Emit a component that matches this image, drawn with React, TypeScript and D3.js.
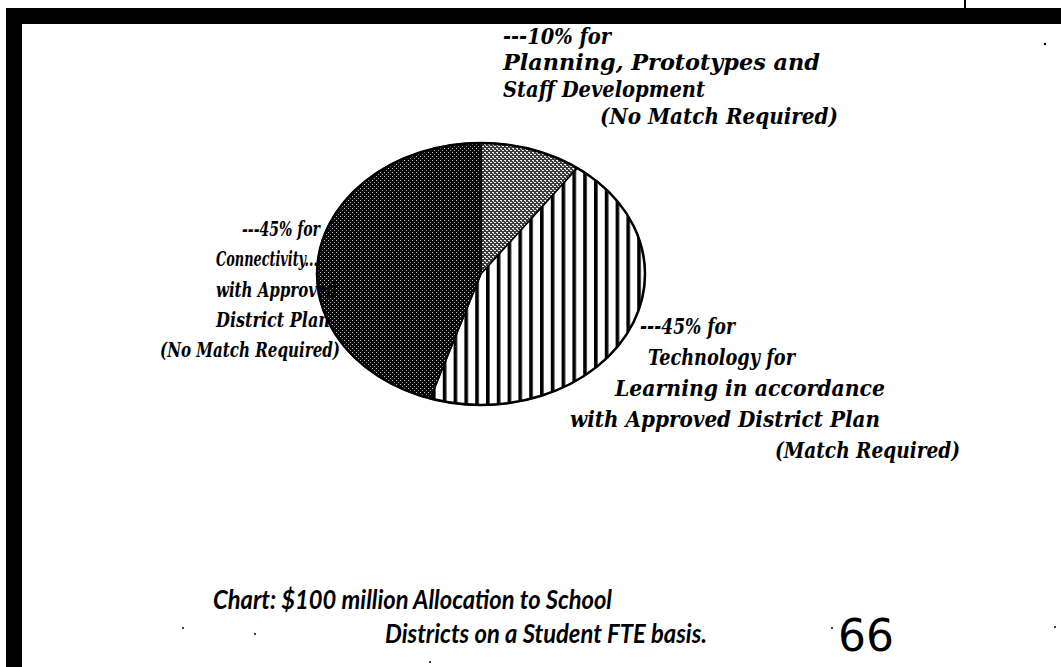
import React from "react";
import * as d3 from "d3";

// ---- data ----
const categories = ["Planning, Prototypes and Staff Development", "Technology for Learning", "Connectivity"];
const shares = [10, 45, 45];
const topLabel = ["---10% for", "Planning, Prototypes and", "Staff Development", "(No Match Required)"];
const rightLabel = ["---45% for", "Technology for", "Learning in accordance", "with Approved District Plan", "(Match Required)"];
const leftLabel = ["---45% for", "Connectivity...", "with Approved", "District Plan", "(No Match Required)"];
const captionLines = ["Chart:  $100 million Allocation to School", "Districts on a Student FTE basis."];
const pageNumber = "66";

const W = 1061, H = 667;
const cx = 481, cy = 274, rx = 164, ry = 131;
const fills = ["url(#light)", "url(#stripes)", "url(#dark)"];

// layout: [x, baseline, width]
const topPos = [[503, 44, 108], [503, 70, 317], [503, 97, 202], [600, 124, 238]];
const rightPos = [[640, 334, 95], [648, 365, 147], [615, 396, 270], [570, 427, 310], [775, 458, 185]];
const leftPos = [[242, 236, 78], [216, 266, 102], [216, 297, 121], [216, 327, 114], [160, 357, 180]];
const capPos = [[213, 609, 399], [385, 643, 322]];

export default function App() {
  const pie = d3.pie<number>().sort(null).value((d) => d);
  const arcs = pie(shares);
  const line = d3.line<[number, number]>();
  const slicePath = (a: d3.PieArcDatum<number>) => {
    const n = 120;
    const pts: [number, number][] = [[cx, cy]];
    for (let i = 0; i <= n; i++) {
      const t = a.startAngle + ((a.endAngle - a.startAngle) * i) / n;
      pts.push([cx + rx * Math.sin(t), cy - ry * Math.cos(t)]);
    }
    pts.push([cx, cy]);
    return line(pts) + "Z";
  };
  const labelStyle: React.CSSProperties = {
    fontFamily: "'DejaVu Serif', serif",
    fontWeight: 700,
    fontStyle: "italic",
  };
  const renderLines = (lines: string[], pos: number[][], size: number, style: React.CSSProperties) =>
    lines.map((t, i) => (
      <text key={t + i} x={pos[i][0]} y={pos[i][1]} textLength={pos[i][2]} lengthAdjust="spacingAndGlyphs"
        fontSize={size} style={style} fill="#000">{t}</text>
    ));
  return (
    <svg width={W} height={H} style={{ position: "absolute", left: 0, top: 0, background: "#fff" }}>
      <defs>
        <pattern id="dark" width={4} height={4} patternUnits="userSpaceOnUse">
          <rect width={4} height={4} fill="#080808" />
          <rect x={0} y={0} width={1} height={1} fill="#ccc" />
          <rect x={2} y={2} width={1} height={1} fill="#999" />
        </pattern>
        <pattern id="light" width={4} height={4} patternUnits="userSpaceOnUse">
          <rect width={4} height={4} fill="#3a3a3a" />
          <rect x={0} y={0} width={2} height={1} fill="#eee" />
          <rect x={2} y={2} width={2} height={1} fill="#eee" />
          <rect x={1} y={1} width={1} height={1} fill="#bbb" />
        </pattern>
        <pattern id="stripes" width={10.8} height={10} patternUnits="userSpaceOnUse">
          <rect width={10.8} height={10} fill="#fff" />
          <rect x={0} y={0} width={3.6} height={10} fill="#000" />
        </pattern>
      </defs>
      <rect width={W} height={H} fill="#fff" />
      {/* scanned page frame */}
      <rect x={6} y={8} width={W - 6} height={16} fill="#000" />
      <rect x={6} y={8} width={16} height={H - 8} fill="#000" />
      <rect x={964} y={0} width={2} height={8} fill="#000" />
      {/* pie */}
      <g>
        {arcs.map((a, i) => (
          <path key={categories[i]} d={slicePath(a)} fill={fills[i]} stroke="#000" strokeWidth={1.5} />
        ))}
        <ellipse cx={cx} cy={cy} rx={rx} ry={ry} fill="none" stroke="#000" strokeWidth={2.5} />
      </g>
      {renderLines(topLabel, topPos, 22, labelStyle)}
      {renderLines(rightLabel, rightPos, 22, labelStyle)}
      {renderLines(leftLabel, leftPos, 21, labelStyle)}
      {renderLines(captionLines, capPos, 26, { fontFamily: "Lato, sans-serif", fontWeight: 700, fontStyle: "italic" })}
      <text x={838} y={651} textLength={56} lengthAdjust="spacingAndGlyphs" fontSize={44}
        style={{ fontFamily: "'DejaVu Sans', sans-serif", fontWeight: 400 }} fill="#000">{pageNumber}</text>
      {/* scan specks */}
      <circle cx={1045} cy={44} r={1.2} fill="#000" />
      <circle cx={832} cy={628} r={1} fill="#000" />
      <circle cx={255} cy={634} r={1} fill="#000" />
      <circle cx={1055} cy={627} r={1} fill="#000" />
      <circle cx={430} cy={662} r={1} fill="#000" />
      <circle cx={183} cy={628} r={1} fill="#000" />
    </svg>
  );
}
